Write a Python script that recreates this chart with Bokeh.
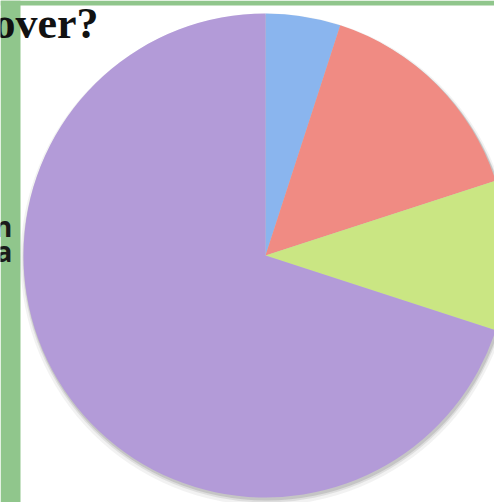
import math
from bokeh.plotting import figure
from bokeh.models import Range1d
from bokeh.core.properties import value
from bokeh.embed import file_html
from bokeh.resources import INLINE

# ---- data ----
categories = ["Blue", "Red", "Green", "Purple"]
shares = [5, 15, 10, 70]
colors = ["#8ab5ee", "#f08b83", "#cae683", "#b39bd8"]
title_text = "over?"
side_texts = ["n", "a"]

W, H = 494, 502
p = figure(width=W, height=H, output_backend="svg", toolbar_location=None,
           x_range=Range1d(0, W), y_range=Range1d(0, H), min_border=0)
p.axis.visible = False
p.grid.visible = False
p.outline_line_color = None
p.background_fill_color = "white"
p.border_fill_color = "white"

# green frame
green = "#90c68c"
p.quad(left=[0], right=[20], bottom=[0], top=[H], fill_color=green, line_color=None)
p.quad(left=[0], right=[W], bottom=[H - 5], top=[H], fill_color=green, line_color=None)

cx, cy, R = 265, H - 255, 242

# soft shadow
for dr, dy, a in [(4, -4, 0.08), (2, -3, 0.12), (1, -2, 0.18)]:
    p.circle(x=[cx + 1], y=[cy + dy], radius=R + dr, fill_color="#555555",
             fill_alpha=a, line_color=None)

total = float(sum(shares))
starts, ends = [], []
cum = 0.0
for s in shares:
    starts.append(math.pi / 2 - 2 * math.pi * cum / total)
    cum += s
    ends.append(math.pi / 2 - 2 * math.pi * cum / total)

p.wedge(x=cx, y=cy, radius=R, start_angle=starts, end_angle=ends,
        direction="clock", fill_color=colors, line_color=None)

p.text(x=[98], y=[H + 2], text=[title_text], text_align="right",
       text_baseline="top", text_font=value("Liberation Serif"),
       text_font_style="bold", text_font_size="44px", text_color="#111111")

p.text(x=[12, 12], y=[H - 206, H - 231], text=side_texts, text_align="right",
       text_baseline="top", text_font=value("Open Sans"),
       text_font_style="bold", text_font_size="28px", text_color="#1a1a1a")

open("out.html", "w").write(file_html(p, INLINE))
